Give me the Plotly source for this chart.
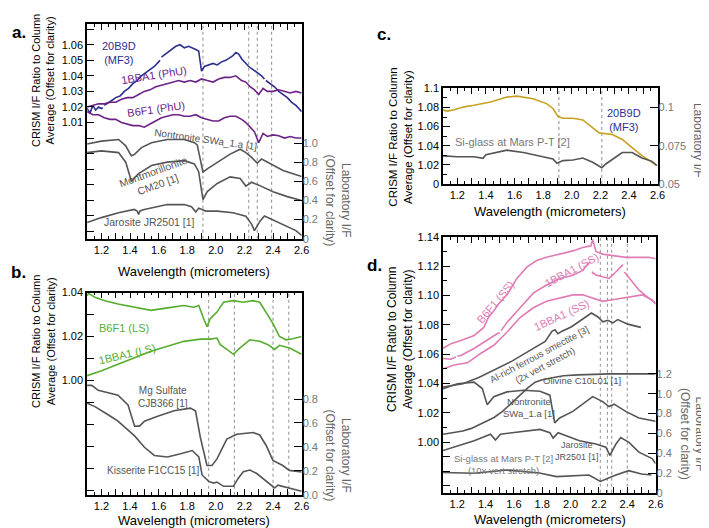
import plotly.graph_objects as go

# ---------------- DATA ----------------
# Panel a (CRISM, left axis)
a_20b9d_w = [1.10,1.12,1.14,1.16,1.18,1.20,1.21,1.215,1.22,1.24,1.27,1.30,1.33,1.36,1.39,1.42,1.45,1.48,1.51,1.54,1.57,1.60,1.61,1.615,1.62,1.66,1.69,1.72,1.75,1.78,1.81,1.84,1.86,1.88,1.89,1.90,1.92,1.95,1.98,2.01,2.04,2.07,2.10,2.12,2.14,2.16,2.18,2.20,2.23,2.26,2.29,2.32,2.34,2.345,2.35,2.38,2.41,2.44,2.47,2.50,2.53,2.56,2.58,2.60]
a_20b9d_v = [1.019,1.016,1.021,1.018,1.020,1.019,1.0195,None,1.021,1.022,1.024,1.026,1.027,1.030,1.032,1.035,1.037,1.040,1.042,1.044,1.046,1.049,1.050,None,1.052,1.055,1.057,1.059,1.060,1.058,1.059,1.058,1.057,1.056,1.050,1.043,1.046,1.047,1.048,1.047,1.049,1.050,1.052,1.053,1.055,1.054,1.051,1.049,1.046,1.044,1.042,1.040,1.038,None,1.037,1.035,1.033,1.030,1.028,1.026,1.023,1.021,1.019,1.017]
a_phu_w = [1.10,1.14,1.18,1.22,1.26,1.30,1.34,1.38,1.42,1.46,1.50,1.54,1.58,1.62,1.66,1.70,1.74,1.78,1.82,1.86,1.90,1.94,1.98,2.02,2.06,2.10,2.14,2.18,2.21,2.24,2.27,2.30,2.33,2.36,2.40,2.44,2.48,2.52,2.56,2.60]
a_1bba1_v = [1.020,1.021,1.022,1.022,1.023,1.023,1.025,1.026,1.026,1.028,1.030,1.031,1.033,1.034,1.035,1.036,1.037,1.036,1.037,1.036,1.038,1.037,1.036,1.038,1.039,1.039,1.040,1.037,1.036,1.033,1.031,1.028,1.032,1.030,1.030,1.031,1.030,1.029,1.030,1.029]
a_b6f1_v = [1.017,1.015,1.015,1.013,1.012,1.012,1.010,1.009,1.008,1.008,1.007,1.009,1.011,1.013,1.014,1.015,1.015,1.014,1.014,1.015,1.013,1.012,1.011,1.011,1.013,1.014,1.014,1.012,1.010,1.007,1.004,0.997,1.003,1.001,1.002,1.0015,1.000,1.001,1.000,1.000]
# Panel a (lab, right axis)
a_nont_w = [1.10,1.20,1.32,1.37,1.40,1.41,1.43,1.48,1.55,1.66,1.78,1.85,1.87,1.89,1.91,1.94,2.01,2.10,2.17,2.21,2.25,2.28,2.29,2.32,2.38,2.47,2.54,2.60]
a_nont_v = [0.99,1.02,1.037,0.97,0.89,0.867,0.88,0.952,1.003,1.037,1.037,1.003,0.98,0.85,0.697,0.73,0.80,0.884,0.935,0.90,0.85,0.80,0.79,0.833,0.782,0.714,0.68,0.65]
a_mont_w = [1.10,1.20,1.32,1.37,1.40,1.41,1.42,1.46,1.55,1.66,1.78,1.85,1.88,1.90,1.91,1.94,2.01,2.10,2.17,2.21,2.25,2.30,2.40,2.50,2.60]
a_mont_v = [0.90,0.918,0.90,0.80,0.65,0.595,0.62,0.68,0.765,0.80,0.816,0.782,0.70,0.50,0.408,0.493,0.578,0.646,0.629,0.55,0.59,0.56,0.49,0.44,0.40]
a_jar_w = [1.10,1.20,1.32,1.43,1.45,1.46,1.47,1.50,1.66,1.78,1.83,1.85,1.86,1.88,1.90,1.93,2.01,2.12,2.21,2.25,2.27,2.31,2.34,2.38,2.47,2.56,2.60]
a_jar_v = [0.17,0.221,0.272,0.306,0.29,0.255,0.29,0.306,0.357,0.357,0.335,0.30,0.279,0.32,0.31,0.289,0.289,0.272,0.235,0.153,0.085,0.187,0.238,0.211,0.153,0.085,0.034]
a_vlines = [1.91, 2.23, 2.29, 2.39]

# Panel b (CRISM)
b_b6f1_w = [1.10,1.11,1.155,1.224,1.316,1.432,1.547,1.662,1.777,1.846,1.881,1.915,1.938,1.961,2.008,2.054,2.123,2.192,2.261,2.307,2.342,2.399,2.445,2.491,2.537,2.60]
b_b6f1_v = [1.0385,1.0396,1.0378,1.0363,1.0348,1.0333,1.0319,1.033,1.0341,1.0333,1.0341,1.0281,1.0244,1.0281,1.0311,1.0356,1.0363,1.0356,1.0363,1.0356,1.0319,1.026,1.020,1.0185,1.019,1.020]
b_1bba1_w = [1.10,1.201,1.316,1.432,1.547,1.662,1.777,1.892,1.961,2.008,2.031,2.077,2.123,2.169,2.238,2.307,2.365,2.411,2.445,2.515,2.60]
b_1bba1_v = [1.0022,1.0044,1.0074,1.0104,1.0133,1.0156,1.0178,1.0188,1.0188,1.0193,1.0163,1.0141,1.0119,1.0148,1.0185,1.0178,1.0163,1.0141,1.016,1.0148,1.0119]
# Panel b (lab)
b_mgs_w = [1.10,1.132,1.178,1.316,1.386,1.432,1.466,1.501,1.593,1.708,1.823,1.858,1.892,1.938,1.973,2.008,2.077,2.146,2.261,2.307,2.353,2.399,2.468,2.514,2.60]
b_mgs_v = [0.914,0.914,0.873,0.833,0.751,0.574,0.574,0.615,0.656,0.702,0.724,0.70,0.479,0.245,0.245,0.30,0.465,0.506,0.520,0.50,0.41,0.288,0.245,0.204,0.19]
b_kis_w = [1.10,1.155,1.247,1.316,1.432,1.501,1.57,1.662,1.754,1.835,1.881,1.904,1.95,1.985,2.008,2.054,2.123,2.157,2.192,2.238,2.284,2.353,2.411,2.434,2.468,2.537,2.60]
b_kis_v = [0.765,0.737,0.669,0.615,0.492,0.397,0.329,0.316,0.343,0.37,0.316,0.166,0.112,0.098,0.107,0.071,0.071,0.139,0.193,0.207,0.18,0.112,0.057,0.08,0.07,0.044,0.03]
b_vlines = [1.95, 2.13, 2.40, 2.51]

# Panel c
c_gold_w = [1.10,1.132,1.178,1.247,1.316,1.432,1.547,1.616,1.731,1.823,1.869,1.904,1.938,2.008,2.077,2.146,2.192,2.284,2.353,2.422,2.491,2.561,2.595]
c_gold_v = [1.0772,1.0762,1.0775,1.0806,1.0823,1.0857,1.0908,1.0918,1.0891,1.084,1.0789,1.0704,1.0687,1.0687,1.067,1.0585,1.0534,1.0517,1.0466,1.038,1.0296,1.0228,1.0194]
c_si_w = [1.10,1.201,1.316,1.36,1.38,1.40,1.547,1.662,1.777,1.869,1.897,1.938,2.008,2.077,2.146,2.21,2.238,2.353,2.422,2.491,2.561,2.595]
c_si_v = [0.0684,0.0678,0.0678,0.0674,0.0668,0.0691,0.0721,0.0706,0.0684,0.0663,0.0636,0.0653,0.0657,0.0670,0.0642,0.0606,0.0631,0.0706,0.0706,0.0670,0.0648,0.0621]
c_vlines = [1.91, 2.21]

# Panel d (CRISM)
d_b6f1_w = [1.10,1.156,1.226,1.319,1.388,1.42,1.458,1.49,1.551,1.621,1.691,1.761,1.830,1.923,2.016,2.086,2.144,2.156,2.179,2.226,2.296,2.389,2.482,2.551,2.60]
d_b6f1_v = [1.064,1.0671,1.0693,1.0727,1.0782,1.0850,1.0893,1.0940,1.1004,1.1116,1.1193,1.1238,1.126,1.1282,1.1304,1.1327,1.1338,1.1382,1.130,1.1282,1.1271,1.126,1.126,1.126,1.125]
d_1bba1u_w = [1.10,1.156,1.19,1.195,1.20,1.226,1.319,1.388,1.481,1.50,1.505,1.51,1.551,1.644,1.737,1.830,1.923,2.016,2.086,2.133,2.14,2.145,2.15,2.179,2.226,2.272,2.319,2.365,2.37,2.375,2.38,2.412,2.482,2.551,2.60]
d_1bba1u_v = [1.057,1.0565,1.058,None,1.0585,1.059,1.0638,1.0682,1.0738,1.0745,None,1.076,1.0816,1.0916,1.1016,1.1071,1.1116,1.1138,1.1171,1.1227,1.1225,None,1.116,1.114,1.1127,1.1116,1.116,1.1204,1.121,None,1.116,1.112,1.1038,1.0982,1.0949]
d_1bba1l_w = [1.10,1.179,1.272,1.365,1.458,1.551,1.644,1.737,1.830,1.923,2.016,2.086,2.156,2.226,2.296,2.365,2.435,2.505,2.575,2.60]
d_1bba1l_v = [1.050,1.0525,1.054,1.0604,1.066,1.0749,1.0849,1.0916,1.096,1.0982,1.1004,1.1004,1.0982,1.096,1.0971,1.0982,1.0993,1.1004,1.097,1.094]
# Panel d (lab)
d_al_w = [1.10,1.24,1.356,1.472,1.589,1.705,1.821,1.87,1.89,1.91,1.94,2.007,2.077,2.147,2.193,2.228,2.263,2.298,2.333,2.403,2.496]
d_al_v = [1.067,1.10,1.166,1.248,1.33,1.429,1.527,1.63,1.645,1.605,1.63,1.675,1.741,1.813,1.773,1.724,1.74,1.714,1.747,1.701,1.668]
d_oliv_w = [1.10,1.24,1.30,1.38,1.46,1.52,1.58,1.64,1.70,1.75,1.80,1.89,1.95,2.05,2.28,2.60]
d_oliv_v = [0.591,0.624,0.65,0.706,0.76,0.821,0.90,0.985,1.06,1.116,1.14,1.166,1.18,1.189,1.199,1.199]
d_nont_w = [1.10,1.202,1.319,1.377,1.412,1.458,1.551,1.668,1.784,1.854,1.888,1.923,2.016,2.156,2.226,2.272,2.307,2.389,2.482,2.60]
d_nont_v = [1.05,1.1,1.116,1.051,0.887,0.97,1.018,1.034,1.025,0.985,0.706,0.755,0.821,0.97,0.92,0.87,0.894,0.821,0.755,0.722]
d_jar_w = [1.10,1.202,1.319,1.435,1.47,1.505,1.668,1.784,1.854,1.877,1.912,1.97,2.063,2.179,2.249,2.277,2.319,2.354,2.412,2.482,2.575,2.60]
d_jar_v = [0.427,0.476,0.525,0.591,0.532,0.591,0.624,0.64,0.607,0.552,0.607,0.575,0.525,0.492,0.46,0.378,0.49,0.558,0.509,0.41,0.345,0.296]
d_si_w = [1.10,1.32,1.55,1.78,1.90,2.02,2.13,2.21,2.32,2.41,2.50,2.57]
d_si_v = [0.205,0.197,0.23,0.20,0.164,0.17,0.18,0.115,0.18,0.224,0.19,0.18]
d_vlines = [2.21, 2.26, 2.29, 2.40]

# tick labels
x_tick_vals = [1.1,1.2,1.3,1.4,1.5,1.6,1.7,1.8,1.9,2.0,2.1,2.2,2.3,2.4,2.5,2.6]
x_tick_text = ["","1.2","","1.4","","1.6","","1.8","","2.0","","2.2","","2.4","","2.6"]
a_left_vals = [0.94,0.95,0.96,0.97,0.98,0.99,1.00,1.01,1.02,1.03,1.04,1.05,1.06,1.07]
a_left_text = ["","","","","","","","1.01","1.02","1.03","1.04","1.05","1.06",""]
a_right_vals = [0,0.2,0.4,0.6,0.8,1.0]
a_right_text = ["0","0.2","0.4","0.6","0.8","1.0"]
b_left_vals = [0.95,0.96,0.97,0.98,0.99,1.00,1.01,1.02,1.03,1.04]
b_left_text = ["","","","","","1.00","","1.02","","1.04"]
b_right_vals = [0,0.2,0.4,0.6,0.8]
b_right_text = ["0.0","0.2","0.4","0.6","0.8"]
c_left_vals = [1.00,1.02,1.04,1.06,1.08,1.10]
c_left_text = ["0","1.02","1.04","1.06","1.08","1.1"]
c_right_vals = [0.05,0.075,0.1]
c_right_text = ["0.05","0.075","0.1"]
d_left_vals = [0.97,0.98,0.99,1.00,1.02,1.04,1.06,1.08,1.10,1.12,1.14]
d_left_text = ["","","","1.00","1.02","1.04","1.06","1.08","1.10","1.12","1.14"]
d_right_vals = [0,0.2,0.4,0.6,0.8,1.0,1.2]
d_right_text = ["0","0.2","0.4","0.6","0.8","1.0","1.2"]

# ---------------- STYLE ----------------
FONT = "Liberation Sans, Arial, Helvetica, sans-serif"
W, H = 709, 528
BLUE = "#2c2f8e"
PURPLE = "#6c2287"
GREEN = "#56ad2f"
GOLD = "#c6a122"
PINK = "#e07bb4"
LAB = "#555555"
LABTXT = "#666666"

def px(xp):
    return xp / W

def py(yp):
    return 1 - yp / H

fig = go.Figure()

def add(xs, ys, xa, ya, color, width=1.6):
    assert len(xs) == len(ys)
    fig.add_trace(go.Scatter(x=xs, y=ys, xaxis=xa, yaxis=ya, mode="lines",
                             line=dict(color=color, width=width), showlegend=False,
                             hoverinfo="skip"))

# panel a
add(a_20b9d_w, a_20b9d_v, "x", "y", BLUE)
add(a_phu_w, a_1bba1_v, "x", "y", PURPLE)
add(a_phu_w, a_b6f1_v, "x", "y", PURPLE)
add(a_nont_w, a_nont_v, "x", "y5", LAB)
add(a_mont_w, a_mont_v, "x", "y5", LAB)
add(a_jar_w, a_jar_v, "x", "y5", LAB)
# panel b
add(b_b6f1_w, b_b6f1_v, "x2", "y2", GREEN)
add(b_1bba1_w, b_1bba1_v, "x2", "y2", GREEN)
add(b_mgs_w, b_mgs_v, "x2", "y6", LAB)
add(b_kis_w, b_kis_v, "x2", "y6", LAB)
# panel c
add(c_gold_w, c_gold_v, "x3", "y3", GOLD)
add(c_si_w, c_si_v, "x3", "y7", LAB)
# panel d
add(d_b6f1_w, d_b6f1_v, "x4", "y4", PINK)
add(d_1bba1u_w, d_1bba1u_v, "x4", "y4", PINK)
add(d_1bba1l_w, d_1bba1l_v, "x4", "y4", PINK)
add(d_al_w, d_al_v, "x4", "y8", LAB)
add(d_oliv_w, d_oliv_v, "x4", "y8", LAB)
add(d_nont_w, d_nont_v, "x4", "y8", LAB)
add(d_jar_w, d_jar_v, "x4", "y8", LAB)
add(d_si_w, d_si_v, "x4", "y8", LAB)

# domains (pixels)
panels = {
    "a": dict(x=(80, 297), y=(10, 230)),
    "b": dict(x=(80, 297), y=(285, 492)),
    "c": dict(x=(440, 657), y=(76, 174)),
    "d": dict(x=(440, 655), y=(228, 490)),
}

def xdom(p):
    return [px(panels[p]["x"][0]), px(panels[p]["x"][1])]

def ydom(p):
    return [py(panels[p]["y"][1]), py(panels[p]["y"][0])]

tickfont = dict(family=FONT, size=11, color="black")
rtickfont = dict(family=FONT, size=11, color="#777777")

def xaxis(p, anchor):
    return dict(domain=xdom(p), anchor=anchor, range=[1.1, 2.6], tickmode="array",
                tickvals=x_tick_vals, ticktext=x_tick_text, ticks="inside", ticklen=6,
                tickwidth=1.2, tickcolor="black", mirror="ticks", showline=True,
                linecolor="black", linewidth=1.6, showgrid=False, zeroline=False,
                tickfont=tickfont,
                minor=dict(ticks="inside", ticklen=3, tickwidth=1, tickcolor="black",
                           tickvals=[round(1.15 + 0.1 * i, 2) for i in range(15)]))

def yleft(p, anchor, rng, vals, text, minor=None):
    d = dict(domain=ydom(p), anchor=anchor, range=rng, tickmode="array", tickvals=vals,
             ticktext=text, ticks="inside", ticklen=7, tickwidth=1.2, tickcolor="black",
             showline=True, mirror=True, linecolor="black", linewidth=1.6,
             showgrid=False, zeroline=False, tickfont=tickfont)
    if minor:
        d["minor"] = minor
    return d

def yright(over, anchor, rng, vals, text):
    return dict(overlaying=over, anchor=anchor, side="right", range=rng, tickmode="array",
                tickvals=vals, ticktext=text, ticks="inside", ticklen=8, tickwidth=1.2,
                tickcolor="black", showline=False, showgrid=False, zeroline=False,
                tickfont=rtickfont)

fig.update_layout(
    xaxis=xaxis("a", "y"), xaxis2=xaxis("b", "y2"), xaxis3=xaxis("c", "y3"), xaxis4=xaxis("d", "y4"),
    yaxis=yleft("a", "x", [0.9352, 1.0735], a_left_vals, a_left_text),
    yaxis2=yleft("b", "x2", [0.948, 1.04], b_left_vals, b_left_text),
    yaxis3=yleft("c", "x3", [1.00, 1.10], c_left_vals, c_left_text,
                 minor=dict(ticks="inside", ticklen=4, tickcolor="black", dtick=0.01, tick0=1.0)),
    yaxis4=yleft("d", "x4", [0.9653, 1.14], d_left_vals, d_left_text,
                 minor=dict(ticks="inside", ticklen=4, tickcolor="black", dtick=0.01, tick0=1.0)),
    yaxis5=yright("y", "x", [0, 2.245], a_right_vals, a_right_text),
    yaxis6=yright("y2", "x2", [0, 1.69], b_right_vals, b_right_text),
    yaxis7=yright("y3", "x3", [0.05, 0.1125], c_right_vals, c_right_text),
    yaxis8=yright("y4", "x4", [0, 2.581], d_right_vals, d_right_text),
)

# dashed reference lines
shapes = []
for xa, yd, vl in [("x", "y", a_vlines), ("x2", "y2", b_vlines), ("x3", "y3", c_vlines), ("x4", "y4", d_vlines)]:
    for v in vl:
        shapes.append(dict(type="line", xref=xa, yref=yd + " domain", x0=v, x1=v, y0=0, y1=1,
                           line=dict(color="#9a9a9a", width=1.1, dash="3px,3px"), layer="below"))
fig.update_layout(shapes=shapes)

ann = []

def t(text, x, y, xref, yref, color, size=11, angle=0):
    ann.append(dict(text=text, x=x, y=y, xref=xref, yref=yref, showarrow=False,
                    font=dict(family=FONT, size=size, color=color), textangle=angle,
                    xanchor="center", yanchor="middle"))

# series labels
t("20B9D<br>(MF3)", 1.32, 1.055, "x", "y", BLUE)
t("1BBA1 (PhU)", 1.57, 1.0405, "x", "y", PURPLE, angle=-9)
t("B6F1 (PhU)", 1.58, 1.0188, "x", "y", PURPLE, angle=-8)
t("Nontronite SWa_1.a [1]", 1.93, 1.04, "x", "y5", LAB, size=10, angle=8)
t("Montmorillonite<br>CM20 [1]", 1.58, 0.63, "x", "y5", LAB, size=10.5, angle=-20)
t("Jarosite JR2501 [1]", 1.535, 0.17, "x", "y5", LAB, size=10.5)

t("B6F1 (LS)", 1.355, 1.0237, "x2", "y2", GREEN)
t("1BBA1 (LS)", 1.38, 1.0121, "x2", "y2", GREEN, angle=-13)
t("Mg Sulfate<br>CJB366 [1]", 1.63, 0.82, "x2", "y6", LAB, size=10)
t("Kisserite F1CC15 [1]", 1.56, 0.207, "x2", "y6", LAB, size=10)

t("20B9D<br>(MF3)", 2.365, 1.067, "x3", "y3", BLUE)
t("Si-glass at Mars P-T [2]", 1.585, 1.0435, "x3", "y3", "#777777", size=11)

t("B6F1 (SS)", 1.47, 1.0953, "x4", "y4", PINK, angle=-50)
t("1BBA1 (SS)", 2.007, 1.1175, "x4", "y4", PINK, angle=-28)
t("1BBA1 (SS)", 1.937, 1.0865, "x4", "y4", PINK, angle=-25)
t("Al-rich ferrous smectite [3]<br>(2x vert stretch)", 1.80, 1.056, "x4", "y4", LAB, size=9.5, angle=-28)
t("Olivine C10L01 [1]", 2.084, 1.133, "x4", "y8", LAB, size=9.5)
t("Nontronite<br>SWa_1.a [1]", 1.707, 0.857, "x4", "y8", LAB, size=9.5)
t("Jarosite<br>JR2501 [1]", 2.045, 0.42, "x4", "y8", LAB, size=9)
t("Si-glass at Mars P-T [2]<br>(10x vert stretch)", 1.526, 0.29, "x4", "y8", "#777777", size=9.5)

# axis titles
LT = "CRISM I/F Ratio to Column<br>Average (Offset for clarity)"
RT = "Laboratory I/F<br>(Offset for clarity)"
XT = "Wavelength (micrometers)"
for (x, y, s) in [(36, 68, 11), (36, 335, 11), (397, 126, 11.5), (397, 333, 12)]:
    t(LT, px(x), py(y), "paper", "paper", "black", size=s, angle=-90)
for (x, y) in [(334, 191), (334, 452), (692, 430)]:
    t(RT, px(x), py(y), "paper", "paper", LABTXT, size=12, angle=90)
t("Laboratory I/F", px(698), py(129), "paper", "paper", LABTXT, size=12, angle=90)
for (x, y) in [(188, 263), (188, 518), (548, 202), (548, 517)]:
    t(XT, px(x), py(y), "paper", "paper", "black", size=13)

# panel letters
for lab, (x, y) in [("a.", (11, 19)), ("b.", (11, 264)), ("c.", (380, 21)), ("d.", (371, 257))]:
    t("<b>" + lab + "</b>", px(x), py(y), "paper", "paper", "black", size=17)

fig.update_layout(annotations=ann, width=W, height=H, autosize=False,
                  margin=dict(l=0, r=0, t=0, b=0), paper_bgcolor="white",
                  plot_bgcolor="white", font=dict(family=FONT), showlegend=False)

fig.write_html("out.html")
